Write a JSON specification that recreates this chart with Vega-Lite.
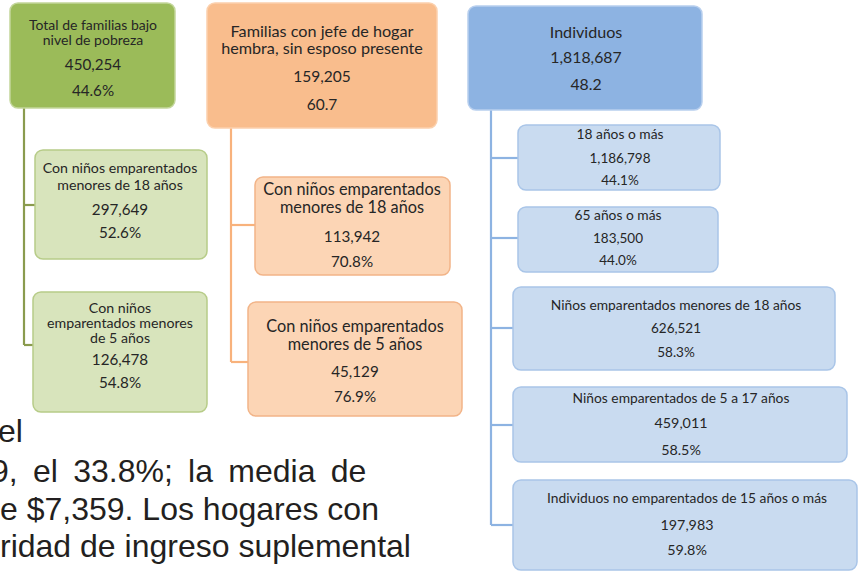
{
  "$schema": "https://vega.github.io/schema/vega-lite/v6.json",
  "width": 860,
  "height": 571,
  "padding": 0,
  "autosize": "none",
  "background": "white",
  "config": {"view": {"stroke": null}},
  "datasets": {
    "lines": [
      {"grp": "g", "x": 24, "x2": 24, "y": 108, "y2": 345},
      {"grp": "g", "x": 24, "x2": 35, "y": 205, "y2": 205},
      {"grp": "g", "x": 24, "x2": 33, "y": 345, "y2": 345},
      {"grp": "o", "x": 231, "x2": 231, "y": 128, "y2": 362},
      {"grp": "o", "x": 231, "x2": 255, "y": 225, "y2": 225},
      {"grp": "o", "x": 231, "x2": 248, "y": 362, "y2": 362},
      {"grp": "b", "x": 491, "x2": 491, "y": 110, "y2": 525},
      {"grp": "b", "x": 491, "x2": 518, "y": 158, "y2": 158},
      {"grp": "b", "x": 491, "x2": 518, "y": 238, "y2": 238},
      {"grp": "b", "x": 491, "x2": 513, "y": 328, "y2": 328},
      {"grp": "b", "x": 491, "x2": 513, "y": 425, "y2": 425},
      {"grp": "b", "x": 491, "x2": 513, "y": 525, "y2": 525}
    ],
    "boxes": [
      {"cls": "gTop", "x1": 10, "x2": 175, "y1": 3, "y2": 108},
      {"cls": "gChild", "x1": 35, "x2": 207, "y1": 150, "y2": 259},
      {"cls": "gChild", "x1": 33, "x2": 207, "y1": 292, "y2": 412},
      {"cls": "oTop", "x1": 207, "x2": 437, "y1": 3, "y2": 128},
      {"cls": "oChild", "x1": 255, "x2": 450, "y1": 177, "y2": 275},
      {"cls": "oChild", "x1": 248, "x2": 462, "y1": 302, "y2": 416},
      {"cls": "bTop", "x1": 468, "x2": 702, "y1": 6, "y2": 110},
      {"cls": "bChild", "x1": 518, "x2": 720, "y1": 125, "y2": 190},
      {"cls": "bChild", "x1": 518, "x2": 718, "y1": 207, "y2": 272},
      {"cls": "bChild", "x1": 513, "x2": 835, "y1": 287, "y2": 370},
      {"cls": "bChild", "x1": 513, "x2": 847, "y1": 387, "y2": 462},
      {"cls": "bChild", "x1": 513, "x2": 857, "y1": 480, "y2": 570}
    ],
    "labels": [
      {"cls": "gTopT", "text": "Total de familias bajo", "x": 93, "y": 30},
      {"cls": "gTopT", "text": "nivel de pobreza", "x": 93, "y": 45},
      {"cls": "gTopN", "text": "450,254", "x": 93, "y": 70},
      {"cls": "gTopN", "text": "44.6%", "x": 93, "y": 96},
      {"cls": "oTopT", "text": "Familias con jefe de hogar", "x": 322, "y": 37},
      {"cls": "oTopT", "text": "hembra, sin esposo presente", "x": 322, "y": 54},
      {"cls": "oTopN", "text": "159,205", "x": 322, "y": 82},
      {"cls": "oTopN", "text": "60.7", "x": 322, "y": 110},
      {"cls": "bTopT", "text": "Individuos", "x": 586, "y": 38},
      {"cls": "bTopN", "text": "1,818,687", "x": 586, "y": 63},
      {"cls": "bTopN", "text": "48.2", "x": 586, "y": 90},
      {"cls": "gChT", "text": "Con niños emparentados", "x": 120, "y": 173},
      {"cls": "gChT", "text": "menores  de 18 años", "x": 120, "y": 190},
      {"cls": "gChN", "text": "297,649", "x": 120, "y": 215},
      {"cls": "gChN", "text": "52.6%", "x": 120, "y": 238},
      {"cls": "gChT", "text": "Con niños", "x": 120, "y": 313},
      {"cls": "gChT", "text": "emparentados menores", "x": 120, "y": 328},
      {"cls": "gChT", "text": "de 5 años", "x": 120, "y": 343},
      {"cls": "gChN", "text": "126,478", "x": 120, "y": 365},
      {"cls": "gChN", "text": "54.8%", "x": 120, "y": 388},
      {"cls": "oChT", "text": "Con niños emparentados", "x": 352, "y": 195},
      {"cls": "oChT", "text": "menores de 18 años", "x": 352, "y": 213},
      {"cls": "oChN", "text": "113,942", "x": 352, "y": 242},
      {"cls": "oChN", "text": "70.8%", "x": 352, "y": 267},
      {"cls": "oChT", "text": "Con niños emparentados", "x": 355, "y": 332},
      {"cls": "oChT", "text": "menores de 5 años", "x": 355, "y": 350},
      {"cls": "oChN", "text": "45,129", "x": 355, "y": 377},
      {"cls": "oChN", "text": "76.9%", "x": 355, "y": 402},
      {"cls": "bChT", "text": "18 años o más", "x": 620, "y": 139},
      {"cls": "bChN", "text": "1,186,798", "x": 620, "y": 163},
      {"cls": "bChN", "text": "44.1%", "x": 620, "y": 185},
      {"cls": "bChT", "text": "65 años o más", "x": 618, "y": 220},
      {"cls": "bChN", "text": "183,500", "x": 618, "y": 243},
      {"cls": "bChN", "text": "44.0%", "x": 618, "y": 265},
      {"cls": "bChT", "text": "Niños emparentados menores de 18 años", "x": 676, "y": 310},
      {"cls": "bChN", "text": "626,521", "x": 676, "y": 333},
      {"cls": "bChN", "text": "58.3%", "x": 676, "y": 357},
      {"cls": "bChT", "text": "Niños emparentados de 5 a 17 años", "x": 681, "y": 403},
      {"cls": "bChNL", "text": "459,011", "x": 681, "y": 428},
      {"cls": "bChNL", "text": "58.5%", "x": 681, "y": 455},
      {"cls": "bChT", "text": "Individuos no emparentados de 15 años o más", "x": 687, "y": 503},
      {"cls": "bChNL", "text": "197,983", "x": 687, "y": 530},
      {"cls": "bChNL", "text": "59.8%", "x": 687, "y": 555}
    ],
    "para": [
      {"text": "el", "x": -2, "y": 442},
      {"text": "9,\u2009 el\u2009 33.8%;\u2009 la\u2009 media\u2009 de", "x": -9, "y": 482},
      {"text": "e $7,359. Los hogares con", "x": 0, "y": 520},
      {"text": "ridad de ingreso suplemental", "x": 0, "y": 557}
    ]
  },
  "layer": [
    {
      "data": {"name": "lines"},
      "mark": {"type": "rule", "strokeWidth": 2.2},
      "encoding": {
        "x": {"field": "x", "type": "quantitative", "scale": {"domain": [0, 860], "nice": false, "zero": false}, "axis": null},
        "x2": {"field": "x2"},
        "y": {"field": "y", "type": "quantitative", "scale": {"domain": [0, 571], "nice": false, "zero": false, "reverse": true}, "axis": null},
        "y2": {"field": "y2"},
        "stroke": {"field": "grp", "type": "nominal", "scale": {"domain": ["g", "o", "b"], "range": ["#8a9b4e", "#f8b27c", "#8db3e2"]}, "legend": null}
      }
    },
    {
      "data": {"name": "boxes"},
      "mark": {"type": "rect", "cornerRadius": 8, "strokeWidth": 1.5},
      "encoding": {
        "x": {"field": "x1", "type": "quantitative", "scale": {"domain": [0, 860], "nice": false, "zero": false}, "axis": null},
        "x2": {"field": "x2"},
        "y": {"field": "y1", "type": "quantitative", "scale": {"domain": [0, 571], "nice": false, "zero": false, "reverse": true}, "axis": null},
        "y2": {"field": "y2"},
        "fill": {"field": "cls", "type": "nominal", "scale": {"domain": ["gTop", "gChild", "oTop", "oChild", "bTop", "bChild"], "range": ["#9bbb59", "#d8e4bc", "#f9bd8d", "#fcd5b5", "#8db3e2", "#c9dbf0"]}, "legend": null},
        "stroke": {"field": "cls", "type": "nominal", "scale": {"domain": ["gTop", "gChild", "oTop", "oChild", "bTop", "bChild"], "range": ["#c3d69b", "#b7cc88", "#fbd0ad", "#f2b488", "#b8cfee", "#a9c5e8"]}, "legend": null}
      }
    },
    {
      "data": {"name": "labels"},
      "mark": {"type": "text", "font": "Lato", "align": "center", "baseline": "alphabetic", "color": "#262626"},
      "encoding": {
        "x": {"field": "x", "type": "quantitative", "scale": {"domain": [0, 860], "nice": false, "zero": false}, "axis": null},
        "y": {"field": "y", "type": "quantitative", "scale": {"domain": [0, 571], "nice": false, "zero": false, "reverse": true}, "axis": null},
        "text": {"field": "text", "type": "nominal"},
        "size": {"field": "cls", "type": "nominal", "scale": {"type": "ordinal", "domain": ["gTopT", "gTopN", "oTopT", "oTopN", "bTopT", "bTopN", "gChT", "gChN", "oChT", "oChN", "bChT", "bChN", "bChNL"], "range": [14, 15.2, 16.2, 15.5, 16.1, 15.8, 14.2, 15.2, 16.3, 15.2, 13.8, 13.5, 14.3]}, "legend": null}
      }
    },
    {
      "data": {"name": "para"},
      "mark": {"type": "text", "font": "Liberation Sans", "fontSize": 32, "align": "left", "baseline": "alphabetic", "color": "#231f20"},
      "encoding": {
        "x": {"field": "x", "type": "quantitative", "scale": {"domain": [0, 860], "nice": false, "zero": false}, "axis": null},
        "y": {"field": "y", "type": "quantitative", "scale": {"domain": [0, 571], "nice": false, "zero": false, "reverse": true}, "axis": null},
        "text": {"field": "text", "type": "nominal"}
      }
    }
  ],
  "resolve": {"scale": {"stroke": "independent", "fill": "independent", "size": "independent"}}
}
